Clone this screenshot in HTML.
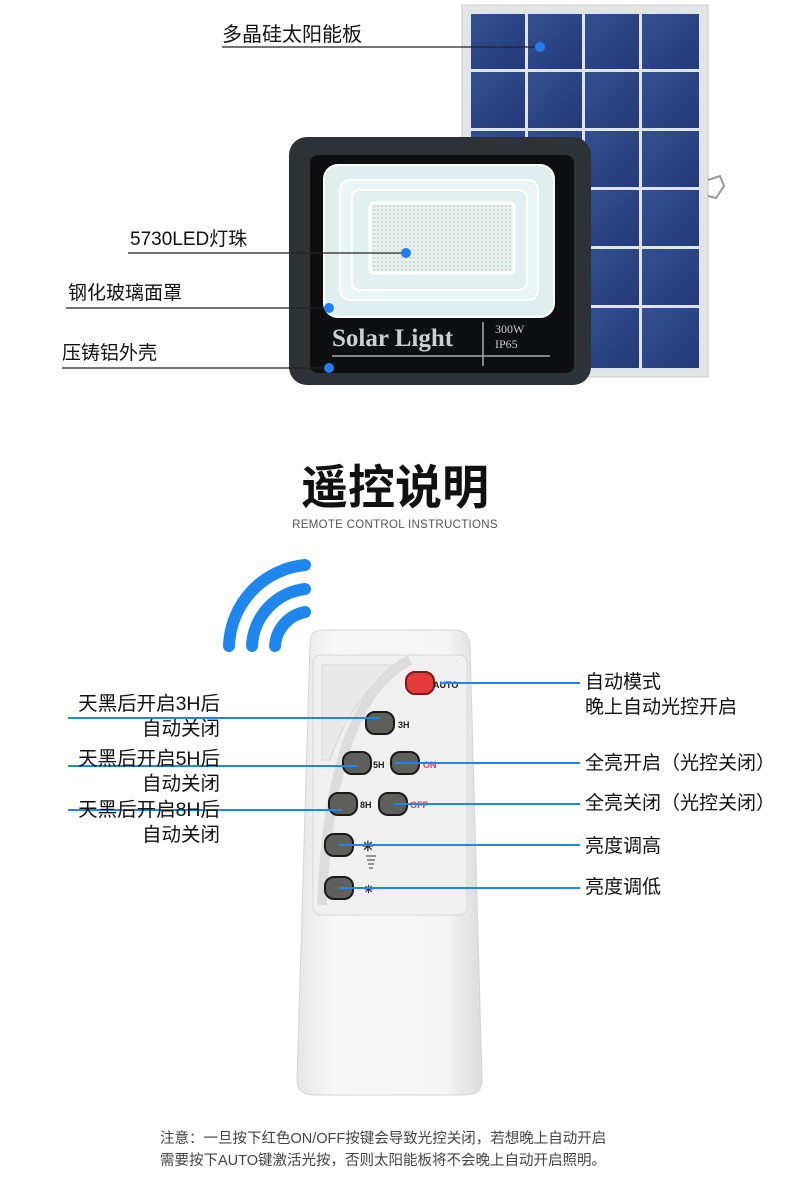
<!DOCTYPE html>
<html><head><meta charset="utf-8"><style>
body{margin:0;width:790px;height:1185px;background:#fff;position:relative;overflow:hidden;font-family:"Liberation Sans","Noto Sans CJK SC",sans-serif;}
.a{position:absolute;}
.t{position:absolute;font-size:19px;color:#111;white-space:nowrap;line-height:1;}
</style></head><body>
<svg class="a" style="left:0;top:0" width="790" height="1185">
<defs>
<linearGradient id="g1" x1="0" y1="0" x2="1" y2="1"><stop offset="0" stop-color="#33508f"/><stop offset="1" stop-color="#24397a"/></linearGradient>
<linearGradient id="rm" x1="0" y1="0" x2="1" y2="0"><stop offset="0" stop-color="#e6e6e6"/><stop offset="0.2" stop-color="#f7f7f7"/><stop offset="0.8" stop-color="#f5f5f5"/><stop offset="1" stop-color="#dcdcdc"/></linearGradient>
<pattern id="dots" width="4" height="4" patternUnits="userSpaceOnUse"><rect width="4" height="4" fill="#e8f0ee"/><circle cx="2" cy="2" r="1" fill="#c9d6d3"/></pattern>
</defs>
<rect x="462" y="5" width="246" height="372" fill="#e2e4e6" stroke="#c8cacc"/>
<rect x="469" y="12" width="232" height="358" fill="#dfe3ea"/>
<g fill="url(#g1)">
<rect x="471" y="14" width="54" height="55"/><rect x="528" y="14" width="54" height="55"/><rect x="585" y="14" width="54" height="55"/><rect x="642" y="14" width="57" height="55"/>
<rect x="471" y="72" width="54" height="56"/><rect x="528" y="72" width="54" height="56"/><rect x="585" y="72" width="54" height="56"/><rect x="642" y="72" width="57" height="56"/>
<rect x="471" y="131" width="54" height="56"/><rect x="528" y="131" width="54" height="56"/><rect x="585" y="131" width="54" height="56"/><rect x="642" y="131" width="57" height="56"/>
<rect x="471" y="190" width="54" height="56"/><rect x="528" y="190" width="54" height="56"/><rect x="585" y="190" width="54" height="56"/><rect x="642" y="190" width="57" height="56"/>
<rect x="471" y="249" width="54" height="56"/><rect x="528" y="249" width="54" height="56"/><rect x="585" y="249" width="54" height="56"/><rect x="642" y="249" width="57" height="56"/>
<rect x="471" y="308" width="54" height="60"/><rect x="528" y="308" width="54" height="60"/><rect x="585" y="308" width="54" height="60"/><rect x="642" y="308" width="57" height="60"/>
</g>
<path d="M708 180 L720 176 L724 186 L716 198 L708 196" fill="none" stroke="#999" stroke-width="2"/>
<rect x="289" y="137" width="302" height="248" rx="18" fill="#2d3237"/>
<rect x="310" y="155" width="264" height="218" rx="8" fill="#0d0f11"/>
<rect x="324" y="165" width="230" height="152" rx="14" fill="#dfeff0" stroke="#fff" stroke-width="2"/>
<rect x="340" y="180" width="198" height="120" rx="10" fill="#eaf5f5" stroke="#fff" stroke-width="2"/>
<rect x="352" y="190" width="175" height="100" rx="8" fill="#e2f0f0" stroke="#fff" stroke-width="2"/>
<rect x="370" y="203" width="144" height="70" rx="4" fill="url(#dots)" stroke="#fff" stroke-width="3"/>
<line x1="332" y1="356" x2="550" y2="356" stroke="#aaa" stroke-width="1.5"/>
<line x1="483" y1="322" x2="483" y2="366" stroke="#aaa" stroke-width="1.5"/>
<g stroke="#222" stroke-width="1.2">
<line x1="222" y1="47" x2="540" y2="47"/>
<line x1="128" y1="253" x2="406" y2="253"/>
<line x1="66" y1="308" x2="329" y2="308"/>
<line x1="62" y1="368" x2="329" y2="368"/>
</g>
<g fill="#1f7df0">
<circle cx="540" cy="47" r="5"/><circle cx="406" cy="253" r="5"/><circle cx="329" cy="308" r="5"/><circle cx="329" cy="368" r="5"/>
</g>
<g fill="none" stroke="#1e86ec" stroke-width="12" stroke-linecap="round">
<path d="M229 646 A84 84 0 0 1 305 565"/>
<path d="M252 646 A60 60 0 0 1 305 589"/>
<path d="M275 646 A37 37 0 0 1 305 612"/>
</g>
<path d="M315 632 Q318 630 330 630 L455 630 Q468 630 470 645 L482 1080 Q482 1095 465 1095 L315 1095 Q297 1095 297 1080 L310 645 Q311 632 315 632 Z" fill="url(#rm)" stroke="#d5d5d5"/>
<rect x="313" y="655" width="154" height="260" rx="8" fill="#f0f0f0" stroke="#d8d8d8"/>
<path d="M322 665 L395 665 Q350 700 330 760 L322 760 Z" fill="#e9e9e9" stroke="#d5d5d5"/>
<path d="M410 660 Q330 700 322 905" fill="none" stroke="#dcdcdc" stroke-width="10"/>
<g fill="#5f5f5c" stroke="#1a1a1a" stroke-width="2">
<rect x="366" y="712" width="28" height="22" rx="9"/>
<rect x="343" y="752" width="28" height="22" rx="9"/>
<rect x="391" y="752" width="28" height="22" rx="9"/>
<rect x="329" y="793" width="28" height="22" rx="9"/>
<rect x="379" y="793" width="28" height="22" rx="9"/>
<rect x="325" y="834" width="28" height="22" rx="9"/>
<rect x="325" y="877" width="28" height="22" rx="9"/>
</g>
<rect x="406" y="672" width="28" height="22" rx="9" fill="#e33b3b" stroke="#7a1a1a" stroke-width="2"/>
<g font-family="Liberation Sans" font-weight="bold" font-size="9">
<text x="433" y="688" fill="#222">AUTO</text>
<text x="398" y="728" fill="#222">3H</text>
<text x="373" y="768" fill="#222">5H</text>
<text x="423" y="768" fill="#e23a5a">ON</text>
<text x="360" y="808" fill="#222">8H</text>
<text x="410" y="808" fill="#e23a5a">OFF</text>
<text x="362" y="851" fill="#222" font-size="14">✳</text>
<text x="364" y="893" fill="#222" font-size="11">✳</text>
</g>
<g stroke="#333" stroke-width="1"><line x1="366" y1="856" x2="376" y2="856"/><line x1="367" y1="860" x2="375" y2="860"/><line x1="368" y1="864" x2="374" y2="864"/><line x1="369" y1="868" x2="373" y2="868"/></g>
<g stroke="#1e86ec" stroke-width="2">
<line x1="68" y1="718" x2="380" y2="718"/>
<line x1="68" y1="766" x2="357" y2="766"/>
<line x1="68" y1="810" x2="342" y2="810"/>
<line x1="440" y1="683" x2="580" y2="683"/>
<line x1="395" y1="763" x2="580" y2="763"/>
<line x1="393" y1="804" x2="580" y2="804"/>
<line x1="339" y1="845" x2="580" y2="845"/>
<line x1="339" y1="888" x2="580" y2="888"/>
</g>
</svg>
<div class="t" style="left:222px;top:25px;font-size:20px">多晶硅太阳能板</div>
<div class="t" style="left:130px;top:230px">5730LED灯珠</div>
<div class="t" style="left:68px;top:284px">钢化玻璃面罩</div>
<div class="t" style="left:62px;top:344px">压铸铝外壳</div>
<div class="t" style="left:332px;top:326px;font-family:'Liberation Serif',serif;font-weight:bold;font-size:25px;color:#cfcfcf">Solar Light</div>
<div class="t" style="left:495px;top:322px;font-family:'Liberation Serif',serif;font-size:12px;color:#ccc;line-height:15px">300W<br>IP65</div>
<div class="t" style="left:0;width:790px;text-align:center;top:464px;font-size:47px;font-weight:bold;color:#111">遥控说明</div>
<div class="t" style="left:0;width:790px;text-align:center;top:520px;font-size:11.5px;color:#555;letter-spacing:0.3px">REMOTE CONTROL INSTRUCTIONS</div>
<div class="t" style="right:570px;top:692px;text-align:right;line-height:25px;font-size:19.5px">天黑后开启3H后<br>自动关闭</div>
<div class="t" style="right:570px;top:747px;text-align:right;line-height:25px;font-size:19.5px">天黑后开启5H后<br>自动关闭</div>
<div class="t" style="right:570px;top:798px;text-align:right;line-height:25px;font-size:19.5px">天黑后开启8H后<br>自动关闭</div>
<div class="t" style="left:585px;top:670px;line-height:25px">自动模式<br>晚上自动光控开启</div>
<div class="t" style="left:585px;top:754px">全亮开启（光控关闭）</div>
<div class="t" style="left:585px;top:794px">全亮关闭（光控关闭）</div>
<div class="t" style="left:585px;top:837px">亮度调高</div>
<div class="t" style="left:585px;top:878px">亮度调低</div>
<div class="t" style="left:160px;top:1128px;font-size:14.5px;color:#444;line-height:22px">注意：一旦按下红色ON/OFF按键会导致光控关闭，若想晚上自动开启<br>需要按下AUTO键激活光按，否则太阳能板将不会晚上自动开启照明。</div>
</body></html>
